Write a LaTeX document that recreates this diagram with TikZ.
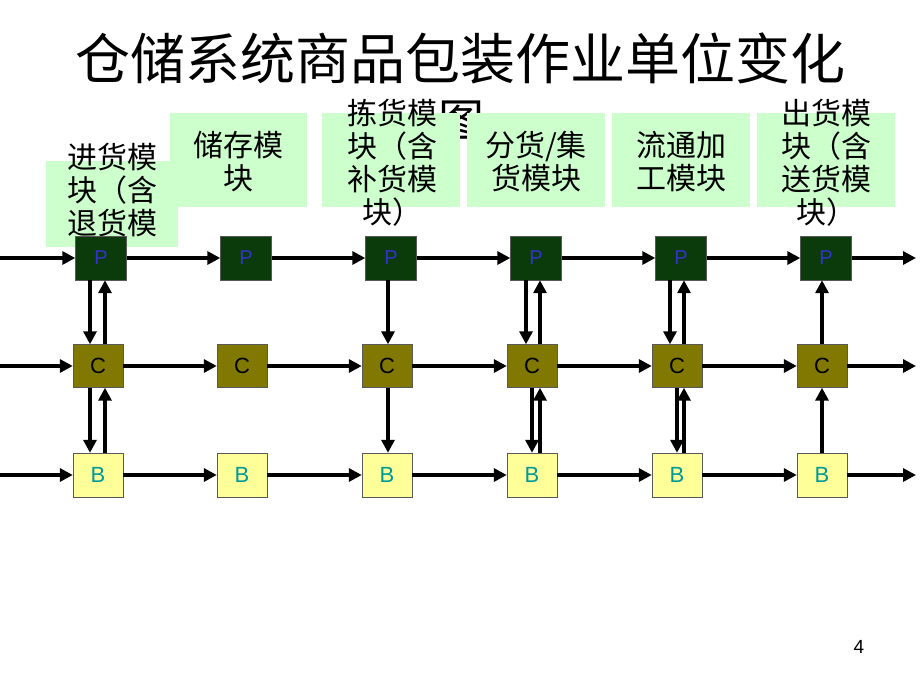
\documentclass[tikz,border=0pt]{standalone}
\usepackage{fontspec}
\setmainfont{Liberation Sans}
\newfontfamily\cjk{Noto Sans CJK SC}
\usetikzlibrary{arrows.meta}
\definecolor{lblgreen}{HTML}{CCFFCC}
\definecolor{pfill}{HTML}{0B3A0B}
\definecolor{cfill}{HTML}{807800}
\definecolor{bfill}{HTML}{FFFF99}
\definecolor{pblue}{HTML}{3333CC}
\definecolor{bteal}{HTML}{009999}
\begin{document}
\begin{tikzpicture}[x=1pt,y=-1pt,
  lblbox/.style={fill=lblgreen,draw=none},
  lbltext/.style={font=\cjk\fontsize{30}{33}\selectfont,align=center,inner sep=0pt},
  pbox/.style={draw=gray!70!black,fill=pfill,minimum width=51pt,minimum height=44pt,inner sep=0pt,text=pblue,font=\fontsize{20}{22}\selectfont},
  cbox/.style={draw=gray!70!black,fill=cfill,minimum width=50pt,minimum height=43pt,inner sep=0pt,text=black,font=\fontsize{22}{24}\selectfont},
  bbox/.style={draw=gray!70!black,fill=bfill,minimum width=50pt,minimum height=44pt,inner sep=0pt,text=bteal,font=\fontsize{22}{24}\selectfont},
  arr/.style={line width=3.2pt,-{Triangle[length=13pt,width=13pt]}}]
\useasboundingbox[fill=white] (0,0) rectangle (920,690);
% title
\node[font=\cjk\fontsize{55}{60}\selectfont,inner sep=0pt] (title) at (460,58) {仓储系统商品包装作业单位变化};
% hidden glyph
\node[font=\cjk\fontsize{46}{50}\selectfont,inner sep=0pt] (hid) at (461,121) {图};
% label boxes
\fill[lblbox] (46,161) rectangle (178,247);
\fill[lblbox] (170,113) rectangle (307,207);
\fill[lblbox] (322,113) rectangle (460,207);
\fill[lblbox] (467,113) rectangle (605,207);
\fill[lblbox] (612,113) rectangle (750,207);
\fill[lblbox] (757,113) rectangle (895,207);
\node[lbltext] (t1) at (112,190) {进货模\\块（含\\退货模};
\node[lbltext] (t2) at (238,162) {储存模\\块};
\node[lbltext] (t3) at (392,163) {拣货模\\块（含\\补货模\\块）};
\node[lbltext] (t4) at (536,162) {分货/集\\货模块};
\node[lbltext] (t5) at (681,162) {流通加\\工模块};
\node[lbltext] (t6) at (826,163) {出货模\\块（含\\送货模\\块）};
% nodes
\foreach \i/\px/\cx in {1/101/98,2/246/242,3/391/387,4/536/532,5/681/677,6/826/822}{
  \node[pbox] (P\i) at (\px,258) {P};
  \node[cbox] (C\i) at (\cx,366) {C};
  \node[bbox] (B\i) at (\cx,475) {B};
}
\coordinate (Pin) at (0,258);
\coordinate (Cin) at (0,366);
\coordinate (Bin) at (0,475);
\coordinate (Pout) at (916,258);
\coordinate (Cout) at (916,366);
\coordinate (Bout) at (916,475);
% horizontal
\draw[arr] (Pin) -- (P1.west);
\draw[arr] (Cin) -- (C1.west);
\draw[arr] (Bin) -- (B1.west);
\foreach \a/\b in {1/2,2/3,3/4,4/5,5/6}{
  \draw[arr] (P\a.east) -- (P\b.west);
  \draw[arr] (C\a.east) -- (C\b.west);
  \draw[arr] (B\a.east) -- (B\b.west);
}
\draw[arr] (P6.east) -- (Pout);
\draw[arr] (C6.east) -- (Cout);
\draw[arr] (B6.east) -- (Bout);
% vertical column 1
\draw[arr] (P1.south -| 90,0) -- (C1.north -| 90,0);
\draw[arr] (C1.north -| 105,0) -- (P1.south -| 105,0);
\draw[arr] (C1.south -| 90,0) -- (B1.north -| 90,0);
\draw[arr] (B1.north -| 105,0) -- (C1.south -| 105,0);
% column 3
\draw[arr] (P3.south -| 388,0) -- (C3.north -| 388,0);
\draw[arr] (C3.south -| 388,0) -- (B3.north -| 388,0);
% column 4
\draw[arr] (P4.south -| 526,0) -- (C4.north -| 526,0);
\draw[arr] (C4.north -| 540,0) -- (P4.south -| 540,0);
\draw[arr] (C4.south -| 532,0) -- (B4.north -| 532,0);
\draw[arr] (B4.north -| 540,0) -- (C4.south -| 540,0);
% column 5
\draw[arr] (P5.south -| 670,0) -- (C5.north -| 670,0);
\draw[arr] (C5.north -| 684,0) -- (P5.south -| 684,0);
\draw[arr] (C5.south -| 677,0) -- (B5.north -| 677,0);
\draw[arr] (B5.north -| 684,0) -- (C5.south -| 684,0);
% column 6
\draw[arr] (C6.north -| 822,0) -- (P6.south -| 822,0);
\draw[arr] (B6.north -| 822,0) -- (C6.south -| 822,0);
% page number
\node[font=\fontsize{19}{21}\selectfont,inner sep=0pt] (pg) at (859,647) {4};
\end{tikzpicture}
\end{document}
